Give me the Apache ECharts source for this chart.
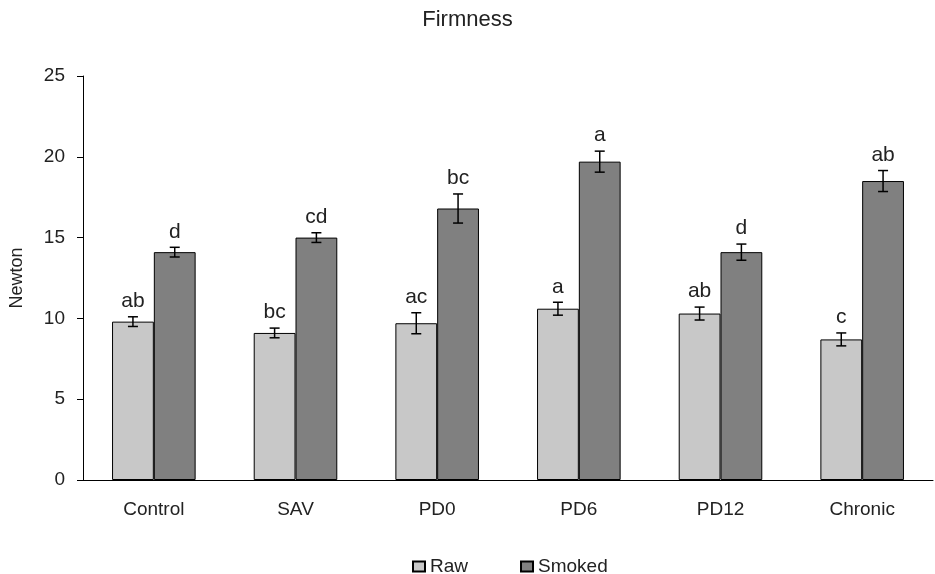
<!DOCTYPE html>
<html><head><meta charset="utf-8">
<script src="https://cdn.jsdelivr.net/npm/echarts@6/dist/echarts.min.js"></script>
<style>html,body{margin:0;padding:0;background:#fff}#c{width:935px;height:574px}</style>
</head><body><div id="c"></div>
<script>
var categories = ['Control','SAV','PD0','PD6','PD12','Chronic'];
var rawValues = [9.8, 9.1, 9.7, 10.6, 10.3, 8.7];
var rawErrors = [0.3, 0.3, 0.65, 0.4, 0.4, 0.4];
var rawLetters = ['ab','bc','ac','a','ab','c'];
var smokedValues = [14.1, 15.0, 16.8, 19.7, 14.1, 18.5];
var smokedErrors = [0.3, 0.3, 0.9, 0.65, 0.5, 0.65];
var smokedLetters = ['d','cd','bc','a','d','ab'];
var yTicks = [0, 5, 10, 15, 20, 25];

var FONT = 'Liberation Sans, Arial, sans-serif';
var GAP = 0.41;

function errSeries(values, errors, letters, side) {
  var data = values.map(function(v, i){ return [i, v, errors[i], letters[i]]; });
  return {
    type: 'custom',
    silent: true,
    z: 5,
    data: data,
    renderItem: function(params, api) {
      var idx = api.value(0);
      var v = api.value(1), e = api.value(2);
      var band = api.size([1, 0])[0];
      var bw = band * (1 - GAP) / 2;
      var c = api.coord([idx, v]);
      var x = c[0] + side * bw / 2;
      var top = api.coord([idx, v + e])[1];
      var bot = api.coord([idx, v - e])[1];
      var cap = 5;
      var st = {stroke: '#000', lineWidth: 1.5};
      return {
        type: 'group',
        children: [
          {type: 'line', shape: {x1: x, y1: top, x2: x, y2: bot}, style: st},
          {type: 'line', shape: {x1: x - cap, y1: top, x2: x + cap, y2: top}, style: st},
          {type: 'line', shape: {x1: x - cap, y1: bot, x2: x + cap, y2: bot}, style: st},
          {type: 'text', style: {text: letters[idx], x: x, y: top - 5, textAlign: 'center', textVerticalAlign: 'bottom', fontSize: 21, fontFamily: FONT, fill: '#222'}}
        ]
      };
    }
  };
}

var chart = echarts.init(document.getElementById('c'), null, {renderer: 'canvas'});
chart.setOption({
  animation: false,
  backgroundColor: '#fff',
  title: {text: 'Firmness', left: 'center', top: 4, textStyle: {fontSize: 22, fontWeight: 'normal', color: '#222', fontFamily: FONT}},
  legend: {
    data: ['Raw', 'Smoked'], left: 407, top: 552, itemWidth: 12, itemHeight: 10, itemGap: 52, icon: 'rect',
    textStyle: {fontSize: 19, color: '#222', fontFamily: FONT}
  },
  grid: {left: 81, right: 2, top: 76, bottom: 94},
  xAxis: {
    type: 'category', data: categories,
    axisLine: {lineStyle: {color: '#000', width: 1}},
    axisTick: {length: 6, lineStyle: {color: '#000'}},
    axisLabel: {color: '#222', fontSize: 19, fontFamily: FONT, margin: 20}
  },
  yAxis: {
    type: 'value', min: 0, max: 25, interval: 5,
    name: 'Newton', nameLocation: 'middle', nameGap: 57, nameRotate: 90,
    nameTextStyle: {fontSize: 18, color: '#222', fontFamily: FONT},
    axisLine: {show: true, lineStyle: {color: '#000', width: 1}},
    axisTick: {show: true, length: 6, lineStyle: {color: '#000'}},
    splitLine: {show: false},
    axisLabel: {color: '#222', fontSize: 19, fontFamily: FONT, margin: 18,
      formatter: function(v){ return yTicks.indexOf(v) >= 0 ? String(v) : ''; }}
  },
  series: [
    {name: 'Raw', type: 'bar', data: rawValues, barGap: '0%', barCategoryGap: (GAP*100) + '%',
      itemStyle: {color: '#c8c8c8', borderColor: '#000', borderWidth: 1}},
    {name: 'Smoked', type: 'bar', data: smokedValues, barGap: '0%', barCategoryGap: (GAP*100) + '%',
      itemStyle: {color: '#808080', borderColor: '#000', borderWidth: 1}},
    errSeries(rawValues, rawErrors, rawLetters, -1),
    errSeries(smokedValues, smokedErrors, smokedLetters, 1)
  ]
});
</script></body></html>
